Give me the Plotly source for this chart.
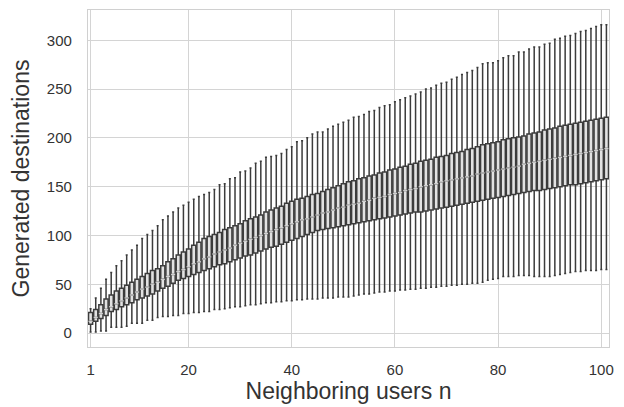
import plotly.graph_objects as go

# Neighboring users n
n_values = list(range(1, 102))

# Box statistics
upper_whisker = [25, 36, 46, 55, 62, 69, 74, 80, 85, 90,
                 97, 101, 105, 110, 116, 120, 124, 128, 131, 134,
                 137, 140, 142, 144, 147, 152, 153, 158, 159, 165,
                 166, 169, 174, 176, 180, 181, 182, 184, 188, 191,
                 196, 197, 200, 204, 206, 206, 209, 212, 214, 216,
                 218, 221, 222, 224, 227, 228, 231, 233, 234, 237,
                 239, 241, 243, 245, 247, 250, 251, 254, 256, 257,
                 260, 262, 265, 267, 269, 272, 276, 277, 277, 279,
                 282, 284, 284, 288, 288, 291, 293, 293, 296, 297,
                 301, 302, 304, 305, 307, 309, 310, 312, 314, 316,
                 316]

q3_values = [21, 24, 29, 35, 39, 43, 46, 49, 52, 55,
             58, 61, 64, 66, 69, 73, 76, 80, 83, 86,
             90, 93, 97, 99, 101, 103, 106, 108, 110, 112,
             115, 117, 119, 121, 124, 126, 128, 130, 133, 135,
             137, 138, 140, 142, 143, 145, 147, 149, 151, 153,
             155, 156, 158, 159, 161, 162, 164, 165, 167, 168,
             170, 171, 173, 174, 176, 177, 178, 180, 181, 182,
             184, 185, 186, 188, 189, 191, 193, 194, 195, 196,
             198, 199, 200, 201, 202, 204, 205, 206, 208, 209,
             210, 212, 213, 214, 215, 216, 217, 218, 219, 220,
             221]

median_values = [12, 16, 20, 24, 27, 30, 33, 36, 39, 42,
                 45, 47, 50, 52, 55, 58, 60, 63, 65, 68,
                 71, 73, 76, 78, 81, 83, 85, 87, 90, 92,
                 94, 96, 98, 100, 102, 104, 106, 108, 110, 112,
                 114, 116, 117, 119, 121, 123, 124, 126, 128, 129,
                 131, 132, 133, 135, 136, 138, 139, 140, 142, 143,
                 144, 146, 147, 148, 150, 151, 152, 153, 155, 156,
                 157, 158, 159, 160, 161, 163, 164, 165, 166, 167,
                 168, 169, 170, 171, 173, 174, 175, 176, 177, 178,
                 179, 180, 181, 182, 183, 184, 185, 186, 187, 188,
                 189]

q1_values = [9, 12, 15, 18, 22, 24, 27, 29, 31, 34,
             36, 38, 40, 43, 46, 48, 51, 54, 56, 58,
             60, 62, 64, 66, 68, 70, 71, 73, 75, 77,
             79, 80, 82, 84, 86, 88, 89, 91, 93, 95,
             97, 99, 101, 103, 105, 106, 107, 108, 109, 110,
             111, 112, 113, 114, 115, 116, 117, 118, 119, 120,
             121, 122, 123, 124, 124, 125, 126, 127, 128, 129,
             130, 131, 132, 133, 134, 135, 136, 137, 138, 139,
             140, 141, 142, 143, 144, 145, 146, 146, 147, 148,
             149, 150, 151, 152, 152, 153, 154, 155, 156, 157,
             158]

lower_whisker = [1, 1, 2, 2, 6, 6, 6, 7, 10, 10,
                 10, 13, 13, 16, 17, 17, 18, 18, 20, 20,
                 21, 21, 22, 22, 24, 24, 25, 26, 27, 27,
                 28, 29, 29, 30, 31, 31, 32, 32, 33, 33,
                 34, 34, 35, 35, 35, 36, 36, 36, 37, 37,
                 37, 38, 39, 40, 40, 41, 42, 42, 43, 43,
                 44, 44, 45, 45, 46, 46, 47, 47, 48, 48,
                 49, 49, 50, 50, 51, 51, 52, 54, 55, 56,
                 58, 58, 58, 59, 59, 59, 58, 58, 58, 58,
                 59, 60, 61, 62, 63, 63, 64, 64, 64, 65,
                 65]

x_tick_values = [1, 20, 40, 60, 80, 100]
y_tick_values = [0, 50, 100, 150, 200, 250, 300]

BOX_WIDTH = 0.8
EDGE = "#3c3c3c"
FONT = "Liberation Sans"
TXT = "#333333"

fig = go.Figure()
fig.add_trace(go.Box(
    x=n_values,
    q1=q1_values,
    median=median_values,
    q3=q3_values,
    lowerfence=lower_whisker,
    upperfence=upper_whisker,
    width=BOX_WIDTH,
    whiskerwidth=0.5,
    boxpoints=False,
    fillcolor="#e2e2e2",
    line=dict(color=EDGE, width=1.5),
    hoverinfo="skip",
    showlegend=False,
))

# light median segments drawn over each box
mx, my = [], []
for n, m in zip(n_values, median_values):
    mx += [n - BOX_WIDTH / 2, n + BOX_WIDTH / 2, None]
    my += [m, m, None]
fig.add_trace(go.Scatter(x=mx, y=my, mode="lines",
                         line=dict(color="#d0d0d0", width=1.4),
                         hoverinfo="skip", showlegend=False))

axis_common = dict(
    showgrid=True, gridcolor="#d4d4d4", gridwidth=1,
    showline=True, linecolor="#d0d0d0", linewidth=1.3, mirror=True,
    zeroline=False, ticks="outside", tickcolor="rgba(0,0,0,0)",
    tickfont=dict(family=FONT, size=15, color=TXT),
    automargin=False,
)

fig.update_layout(
    width=624, height=407,
    margin=dict(l=88, r=15, t=10, b=60),
    paper_bgcolor="white", plot_bgcolor="white",
    font=dict(family=FONT, color=TXT),
    boxmode="overlay",
    xaxis=dict(
        **axis_common,
        range=[0.5, 101.5],
        tickmode="array", tickvals=x_tick_values,
        ticklen=9,
        title=dict(text="Neighboring users n",
                   font=dict(family=FONT, size=23, color=TXT),
                   standoff=5),
    ),
    yaxis=dict(
        **axis_common,
        range=[-14.3, 331],
        tickmode="array", tickvals=y_tick_values,
        ticklen=12,
        title=dict(text="Generated destinations",
                   font=dict(family=FONT, size=23, color=TXT),
                   standoff=10),
    ),
)

fig.write_html("out.html",
               config={"displayModeBar": False},
               post_script="document.body.style.margin='0';document.body.style.overflow='hidden';")
